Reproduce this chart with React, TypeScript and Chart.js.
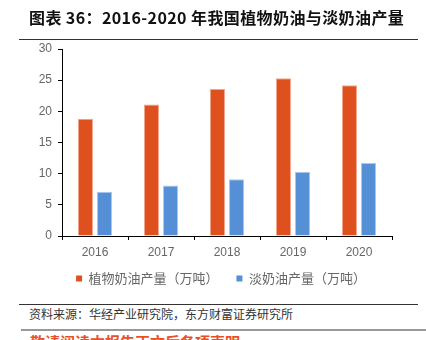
import React, { useEffect, useRef } from "react";
import { Chart, registerables } from "chart.js";

Chart.register(...registerables);

const categories = ["2016", "2017", "2018", "2019", "2020"];
const vegCream = [18.8, 21.1, 23.6, 25.3, 24.2];
const lightCream = [7.1, 8.1, 9.1, 10.3, 11.7];
const seriesNames = ["植物奶油产量（万吨）", "淡奶油产量（万吨）"];
const yTicks = [0, 5, 10, 15, 20, 25, 30];

const title = "图表 36：2016-2020 年我国植物奶油与淡奶油产量";
const source = "资料来源：华经产业研究院，东方财富证券研究所";
const footer = "敬请阅读本报告正文后各项声明";

const FONT = "'Liberation Sans', Arial, 'Noto Sans CJK SC', sans-serif";
const CJK = "'Noto Sans CJK SC', sans-serif";
const LEGEND_PAD = 12;
const LEFT_PAD = 16;

export default function App() {
  const ref = useRef<HTMLCanvasElement | null>(null);

  useEffect(() => {
    if (!ref.current) return;
    const chart = new Chart(ref.current, {
      type: "bar",
      data: {
        labels: categories,
        datasets: [
          {
            label: seriesNames[0],
            data: vegCream,
            backgroundColor: "#DE501E",
            borderColor: "#F2A58C",
            borderWidth: 1,
            categoryPercentage: 0.58,
            barPercentage: 0.79,
          },
          {
            label: seriesNames[1],
            data: lightCream,
            backgroundColor: "#5590D6",
            borderColor: "#A9C8EE",
            borderWidth: 1,
            categoryPercentage: 0.58,
            barPercentage: 0.79,
          },
        ],
      },
      options: {
        animation: false,
        responsive: false,
        maintainAspectRatio: false,
        layout: { padding: { top: 49, left: LEFT_PAD, right: 0, bottom: 0 } },
        plugins: {
          tooltip: { enabled: false },
          title: { display: false },
          legend: {
            display: true,
            position: "bottom",
            labels: {
              boxWidth: 6,
              boxHeight: 6,
              padding: LEGEND_PAD,
              color: "#666",
              font: { family: CJK, size: 13 },
              generateLabels: (c: any) => {
                const items = Chart.defaults.plugins.legend.labels.generateLabels(c);
                return items.map((it: any, i: number) => ({
                  ...it,
                  lineWidth: 0,
                  text: i === 0 ? it.text + "  " : it.text,
                }));
              },
            },
          },
        },
        scales: {
          x: {
            grid: {
              display: true,
              drawOnChartArea: false,
              drawTicks: true,
              tickLength: 4,
              offset: true,
              color: "#000",
            },
            border: { display: true, color: "#000", width: 1 },
            ticks: {
              color: "#666",
              padding: 5,
              font: { family: FONT, size: 12 },
            },
            afterFit: (s: any) => {
              s.height = 36 - LEGEND_PAD;
            },
          },
          y: {
            min: 0,
            max: 30,
            afterBuildTicks: (s: any) => {
              s.ticks = yTicks.map((v) => ({ value: v }));
            },
            grid: {
              display: true,
              drawOnChartArea: false,
              drawTicks: true,
              tickLength: 4,
              color: "#000",
            },
            border: { display: true, color: "#000", width: 1 },
            ticks: {
              color: "#666",
              padding: 6,
              font: { family: FONT, size: 12 },
            },
            afterFit: (s: any) => {
              s.width = 62 - LEFT_PAD;
            },
          },
          y2: {
            position: "right",
            display: true,
            grid: { display: false },
            border: { display: false },
            ticks: { display: false },
            afterFit: (s: any) => {
              s.width = 34;
            },
          },
        },
      },
    });
    return () => chart.destroy();
  }, []);

  return (
    <div
      style={{
        position: "fixed",
        top: 0,
        left: 0,
        width: 426,
        height: 340,
        background: "#fff",
        overflow: "hidden",
      }}
    >
      <canvas
        ref={ref}
        width={426}
        height={295}
        style={{ position: "absolute", left: 0, top: 0, width: 426, height: 295 }}
      />
      <div
        style={{
          position: "absolute",
          left: 29,
          top: 6,
          fontFamily: CJK,
          fontWeight: 700,
          fontSize: 16,
          lineHeight: "22px",
          letterSpacing: "0.4px",
          color: "#111",
          whiteSpace: "nowrap",
        }}
      >
        {title}
      </div>
      <div
        style={{
          position: "absolute",
          left: 19,
          top: 39,
          width: 399,
          height: 1,
          background: "#333",
        }}
      />
      <div
        style={{
          position: "absolute",
          left: 19,
          top: 304,
          width: 399,
          height: 1,
          background: "#333",
        }}
      />
      <div
        style={{
          position: "absolute",
          left: 29,
          top: 306,
          fontFamily: CJK,
          fontSize: 12,
          lineHeight: "16px",
          color: "#333",
          whiteSpace: "nowrap",
        }}
      >
        {source}
      </div>
      <div
        style={{
          position: "absolute",
          left: 21,
          top: 329,
          width: 405,
          height: 2,
          background: "#999",
        }}
      />
      <div
        style={{
          position: "absolute",
          left: 30,
          top: 333,
          fontFamily: CJK,
          fontWeight: 700,
          fontSize: 15,
          lineHeight: "18px",
          color: "#E8502A",
          whiteSpace: "nowrap",
        }}
      >
        {footer}
      </div>
    </div>
  );
}
